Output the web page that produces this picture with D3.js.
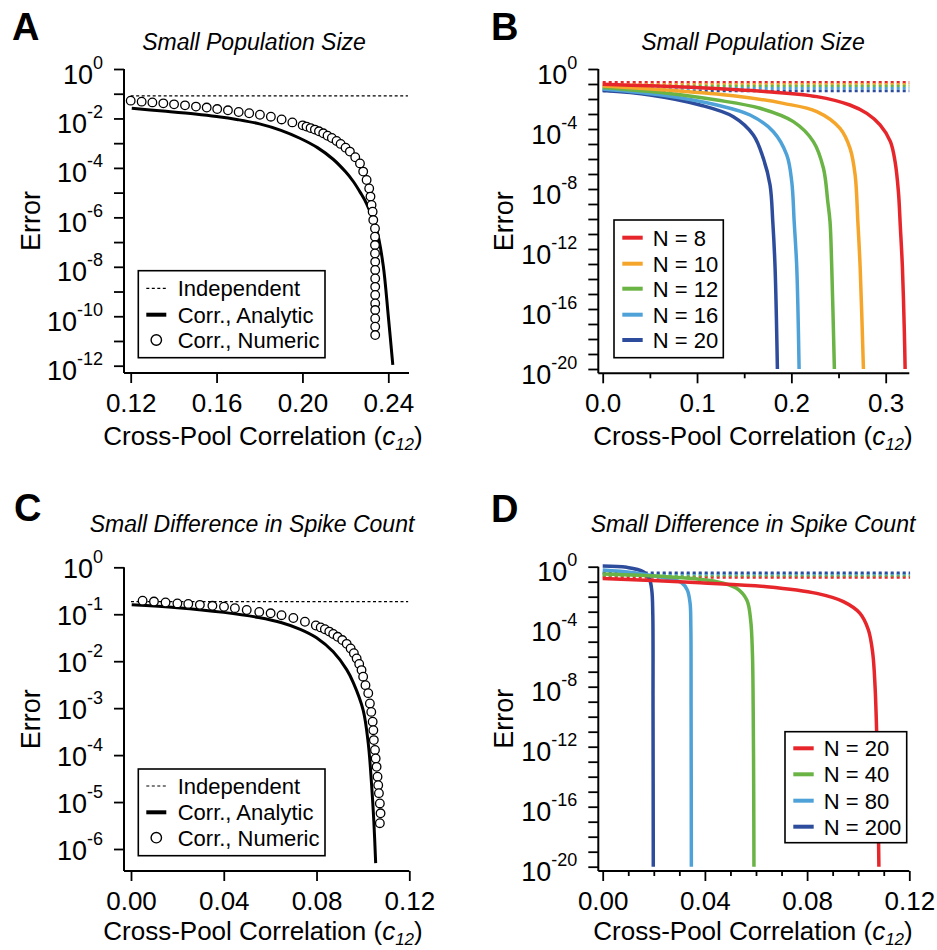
<!DOCTYPE html>
<html>
<head>
<meta charset="utf-8">
<script src="https://cdn.jsdelivr.net/npm/d3@7"></script>
<style>
  body { margin: 0; background: #fff; }
  svg { display: block; font-family: "Liberation Sans", Arial, Helvetica, sans-serif; }
</style>
</head>
<body>
<svg id="fig" width="937" height="950"></svg>
<script>
// values: [c12, log10(error)]

// A: small population size
const aIndependent = -1.09
const aAnalytic = [
  [0.1205, -1.59], [0.135, -1.70], [0.150, -1.82], [0.160, -1.92], [0.170, -2.05],
  [0.180, -2.22], [0.190, -2.48], [0.1988, -2.80], [0.2070, -3.18], [0.2143, -3.65],
  [0.2200, -4.15], [0.2237, -4.55], [0.2270, -5.00], [0.2299, -5.45], [0.2346, -6.51],
  [0.2376, -7.93], [0.2400, -10.0], [0.2421, -11.97]
]
const aNumeric = [
  [0.1200, -1.28], [0.1251, -1.32], [0.1301, -1.35], [0.1352, -1.39], [0.1402, -1.43],
  [0.1453, -1.47], [0.1504, -1.52], [0.1554, -1.56], [0.1603, -1.62], [0.1653, -1.67],
  [0.1703, -1.74], [0.1752, -1.79], [0.1802, -1.85], [0.1853, -1.93], [0.1903, -2.04],
  [0.1953, -2.16], [0.2001, -2.28], [0.2019, -2.33], [0.2038, -2.39], [0.2058, -2.45],
  [0.2077, -2.52], [0.2097, -2.60], [0.2117, -2.70], [0.2137, -2.79], [0.2159, -2.91],
  [0.2178, -3.03], [0.2201, -3.18], [0.2221, -3.34], [0.2246, -3.57], [0.2268, -3.82],
  [0.2283, -4.15], [0.2299, -4.49], [0.2311, -4.83], [0.2317, -5.16], [0.2322, -5.50],
  [0.2327, -5.77], [0.2330, -6.11], [0.2338, -6.45], [0.2338, -6.78], [0.2338, -7.12],
  [0.2338, -7.46], [0.2339, -7.80], [0.2339, -8.13], [0.2339, -8.47], [0.2339, -8.81],
  [0.2339, -9.14], [0.2339, -9.48], [0.2339, -9.75], [0.2339, -10.09], [0.2339, -10.42],
  [0.2339, -10.76]
]

// B: small population size, several N
const bSizes = [8, 10, 12, 16, 20]
const bIndependent = [-0.89, -1.02, -1.13, -1.29, -1.47]
const bCurves = [
  [[0, -1.02], [0.05, -1.12], [0.1032, -1.25], [0.174, -1.51], [0.227, -1.84], [0.262, -2.40],
   [0.280, -2.96], [0.294, -3.73], [0.305, -4.84], [0.310, -6.20], [0.3135, -8.20],
   [0.3155, -10.5], [0.3177, -13.2], [0.3198, -17.6], [0.3206, -20]],
  [[0, -1.13], [0.0679, -1.40], [0.1385, -1.78], [0.1915, -2.29], [0.227, -2.84], [0.2516, -3.96],
   [0.2622, -5.29], [0.2676, -7.07], [0.2705, -10.2], [0.2729, -13.2], [0.2764, -20]],
  [[0, -1.24], [0.0679, -1.62], [0.121, -2.07], [0.1668, -2.62], [0.2021, -3.51], [0.2233, -4.84],
   [0.234, -6.62], [0.2386, -8.84], [0.2410, -10.2], [0.2428, -13.2], [0.2456, -20]],
  [[0, -1.33], [0.0679, -1.78], [0.121, -2.40], [0.1562, -3.07], [0.1809, -4.18], [0.1951, -5.73],
   [0.2004, -7.51], [0.2030, -10.2], [0.2057, -13.2], [0.2082, -20]],
  [[0, -1.44], [0.0502, -1.73], [0.1032, -2.40], [0.1385, -3.18], [0.1597, -4.40], [0.1703, -5.96],
   [0.1774, -7.73], [0.1803, -10.18], [0.1827, -13.2], [0.1852, -20]]
]

// C: small difference in spike count
const cIndependent = -0.73
const cAnalytic = [
  [0.0003, -0.80], [0.02, -0.86], [0.04, -0.96], [0.055, -1.07], [0.065, -1.18], [0.073, -1.32],
  [0.08, -1.50], [0.0872, -1.80], [0.0930, -2.18], [0.0958, -2.45], [0.1001, -3.04],
  [0.1023, -3.75], [0.1037, -4.60], [0.1047, -5.40], [0.1055, -6.30]
]
const cNumeric = [
  [0.0050, -0.71], [0.0099, -0.73], [0.0149, -0.75], [0.0200, -0.77], [0.0247, -0.78],
  [0.0297, -0.80], [0.0351, -0.82], [0.0401, -0.84], [0.0448, -0.87], [0.0499, -0.91],
  [0.0553, -0.95], [0.0602, -0.98], [0.0649, -1.02], [0.0700, -1.08], [0.0750, -1.16],
  [0.0797, -1.24], [0.0818, -1.28], [0.0836, -1.32], [0.0855, -1.37], [0.0872, -1.42],
  [0.0891, -1.48], [0.0911, -1.55], [0.0930, -1.63], [0.0947, -1.73], [0.0961, -1.83],
  [0.0973, -1.94], [0.0984, -2.06], [0.0994, -2.19], [0.1001, -2.33], [0.1011, -2.51],
  [0.1023, -2.68], [0.1030, -2.90], [0.1036, -3.08], [0.1042, -3.29], [0.1045, -3.47],
  [0.1047, -3.68], [0.1052, -3.89], [0.1055, -4.07], [0.1059, -4.25], [0.1063, -4.46],
  [0.1066, -4.64], [0.1069, -4.81], [0.1073, -5.03], [0.1076, -5.24], [0.1073, -5.45]
]

// D: small difference in spike count, several N
const dSizes = [20, 40, 80, 200]
const dIndependent = [-0.71, -0.58, -0.49, -0.40]
const dCurves = [
  [[0, -0.78], [0.0381, -1.07], [0.0642, -1.33], [0.0838, -1.78], [0.0942, -2.33], [0.1007, -3.11],
   [0.1040, -4.22], [0.1057, -5.78], [0.1066, -8.0], [0.1072, -10.9], [0.1077, -15], [0.1081, -20]],
  [[0, -0.49], [0.025, -0.67], [0.0446, -1.0], [0.0524, -1.44], [0.0564, -2.22], [0.0579, -3.55],
   [0.0586, -5.78], [0.0589, -9.44], [0.0591, -15], [0.0592, -20]],
  [[0, -0.22], [0.012, -0.40], [0.025, -0.78], [0.0309, -1.07], [0.0331, -1.56], [0.0342, -2.44],
   [0.0345, -4.0], [0.0346, -9.44], [0.0347, -20]],
  [[0, 0.05], [0.0094, -0.04], [0.0159, -0.33], [0.0182, -0.78], [0.0192, -1.56], [0.0196, -3.11],
   [0.0197, -9.44], [0.0198, -20]]
]

const bColors = ['#e6262b', '#f5a52a', '#6ab345', '#4fa2d8', '#2d4c9c']
const dColors = ['#e6262b', '#6ab345', '#4fa2d8', '#2d4c9c']

const svg = d3.select('#fig')

const drawPanel = p => {
  const g = svg.append('g')
  const x = d3.scaleLinear().domain(p.xTicks.domain).range(p.xTicks.range)
  const y = d3.scaleLog().domain([1, 10 ** p.yMin]).range([p.top, p.yMinPx])

  // y axis
  const yAxisG = g.append('g')
    .attr('transform', `translate(${p.left},0)`)
    .call(d3.axisLeft(y)
      .tickValues(d3.range(0, p.yMin - 1, -1).map(e => 10 ** e))
      .tickSize(10).tickSizeOuter(0).tickFormat(''))
    .attr('font-family', null).attr('font-size', null)
  yAxisG.select('.domain').remove()
  yAxisG.selectAll('.tick line').attr('stroke-width', 1.8)
  yAxisG.selectAll('.tick text').remove()
  const lab = yAxisG.selectAll('.tick')
    .filter(d => Math.round(Math.log10(d)) % p.yLabelEvery === 0)
    .append('text')
    .attr('x', -21).attr('y', p.yLabelDy)
    .attr('text-anchor', 'end').attr('fill', 'black')
  lab.append('tspan').attr('font-size', 27).text('10')
  lab.append('tspan').attr('font-size', 18).attr('dy', -15)
    .text(d => String(Math.round(Math.log10(d))))

  // x axis
  const xAxisG = g.append('g')
    .attr('transform', `translate(0,${p.bottom})`)
    .call(d3.axisBottom(x).tickValues(p.xMajor).tickSize(10).tickSizeOuter(0)
      .tickFormat(d3.format(p.xFormat)))
    .attr('font-family', null).attr('font-size', null)
  xAxisG.select('.domain').remove()
  xAxisG.selectAll('.tick line').attr('stroke-width', 1.8)
  xAxisG.selectAll('.tick text')
    .attr('y', 39).attr('dy', null).attr('font-size', 26).attr('fill', 'black')
  if (p.xMinor) {
    const minorG = g.append('g')
      .attr('transform', `translate(0,${p.bottom})`)
      .call(d3.axisBottom(x).tickValues(p.xMinor).tickSize(5).tickSizeOuter(0).tickFormat(''))
    minorG.select('.domain').remove()
    minorG.selectAll('.tick line').attr('stroke-width', 1.8)
  }

  // spines
  g.append('line')
    .attr('x1', p.left).attr('x2', p.left).attr('y1', p.top).attr('y2', p.bottom)
    .attr('stroke', 'black').attr('stroke-width', 2)
  g.append('line')
    .attr('x1', p.left).attr('x2', p.right).attr('y1', p.bottom).attr('y2', p.bottom)
    .attr('stroke', 'black').attr('stroke-width', 2)

  // labels
  g.append('text')
    .attr('x', p.letter[0]).attr('y', p.letter[1])
    .attr('font-size', 38).attr('font-weight', 'bold')
    .text(p.name)
  g.append('text')
    .attr('x', p.titleX).attr('y', p.titleY)
    .attr('text-anchor', 'middle').attr('font-size', 23).attr('font-style', 'italic')
    .text(p.title)
  g.append('text')
    .attr('transform', `translate(${p.errorX},${(p.top + p.bottom) / 2}) rotate(-90)`)
    .attr('text-anchor', 'middle').attr('font-size', 27)
    .text('Error')
  const xl = g.append('text')
    .attr('x', p.xLabelX).attr('y', p.xLabelY)
    .attr('text-anchor', 'middle').attr('font-size', 26)
  xl.append('tspan').text('Cross-Pool Correlation (')
  xl.append('tspan').attr('font-style', 'italic').text('c')
  xl.append('tspan').attr('font-style', 'italic').attr('font-size', 17).attr('dy', 5).text('12')
  xl.append('tspan').attr('dy', -5).text(')')

  const lineGen = d3.line()
    .x(d => x(d[0]))
    .y(d => y(10 ** d[1]))
    .curve(d3.curveCatmullRom.alpha(0.5))

  return { g, x, y, lineGen }
}

const fullEnd = (p, x) => x.invert(p.right)

// ---------- panel A ----------
const pA = {
  name: 'A', letter: [12, 40], title: 'Small Population Size', titleX: 254, titleY: 50,
  left: 124, right: 409, top: 69, bottom: 373, yMin: -12, yMinPx: 365.7,
  yLabelEvery: 2, yLabelDy: 14,
  xTicks: { domain: [0.12, 0.24], range: [130.7, 388.3] },
  xMajor: [0.12, 0.16, 0.20, 0.24], xFormat: '.2f',
  errorX: 40, xLabelX: 263, xLabelY: 445
}
const A = drawPanel(pA)
A.g.append('path')
  .attr('d', A.lineGen([[0.12, aIndependent], [fullEnd(pA, A.x) - 0.0005, aIndependent]]))
  .attr('fill', 'none').attr('stroke', 'black').attr('stroke-width', 1.2)
  .attr('stroke-dasharray', '3,2.5')
A.g.append('path')
  .attr('d', A.lineGen(aAnalytic))
  .attr('fill', 'none').attr('stroke', 'black').attr('stroke-width', 3)
A.g.selectAll('.num').data(aNumeric)
  .enter().append('circle')
  .attr('cx', d => A.x(d[0])).attr('cy', d => A.y(10 ** d[1]))
  .attr('r', 4.3).attr('fill', 'white').attr('stroke', 'black').attr('stroke-width', 1.3)

// ---------- panel B ----------
const pB = {
  name: 'B', letter: [491, 40], title: 'Small Population Size', titleX: 753, titleY: 50,
  left: 598.3, right: 909.3, top: 69, bottom: 373.3, yMin: -20, yMinPx: 369,
  yLabelEvery: 4, yLabelDy: 14,
  xTicks: { domain: [0, 0.3], range: [602.7, 885.7] },
  xMajor: [0, 0.1, 0.2, 0.3], xMinor: [0.05, 0.15, 0.25], xFormat: '.1f',
  errorX: 513, xLabelX: 753, xLabelY: 445
}
const B = drawPanel(pB)
const bEnd = fullEnd(pB, B.x)
B.g.selectAll('.indep').data(bIndependent)
  .enter().append('path')
  .attr('d', d => B.lineGen([[0, d], [bEnd, d]]))
  .attr('fill', 'none').attr('stroke', (d, i) => bColors[i]).attr('stroke-width', 2.6)
  .attr('stroke-dasharray', '3,3')
B.g.selectAll('.curve').data(bCurves.map((c, i) => ({ c, i })).reverse())
  .enter().append('path')
  .attr('d', d => B.lineGen(d.c))
  .attr('fill', 'none').attr('stroke', d => bColors[d.i]).attr('stroke-width', 3.5)

// ---------- panel C ----------
const pC = {
  name: 'C', letter: [14, 521], title: 'Small Difference in Spike Count', titleX: 252, titleY: 532,
  left: 124, right: 409.3, top: 567.3, bottom: 871, yMin: -6, yMinPx: 849,
  yLabelEvery: 1, yLabelDy: 10,
  xTicks: { domain: [0, 0.12], range: [131, 409.3] },
  xMajor: [0, 0.04, 0.08, 0.12], xFormat: '.2f',
  errorX: 40, xLabelX: 263, xLabelY: 940
}
const C = drawPanel(pC)
C.g.append('path')
  .attr('d', C.lineGen([[0, cIndependent], [0.1195, cIndependent]]))
  .attr('fill', 'none').attr('stroke', 'black').attr('stroke-width', 1.2)
  .attr('stroke-dasharray', '3,2.5')
C.g.append('path')
  .attr('d', C.lineGen(cAnalytic))
  .attr('fill', 'none').attr('stroke', 'black').attr('stroke-width', 3)
C.g.selectAll('.num').data(cNumeric)
  .enter().append('circle')
  .attr('cx', d => C.x(d[0])).attr('cy', d => C.y(10 ** d[1]))
  .attr('r', 4.3).attr('fill', 'white').attr('stroke', 'black').attr('stroke-width', 1.3)

// ---------- panel D ----------
const pD = {
  name: 'D', letter: [491, 522], title: 'Small Difference in Spike Count', titleX: 753, titleY: 532,
  left: 598.3, right: 909.3, top: 566.7, bottom: 871, yMin: -20, yMinPx: 866.7,
  yLabelEvery: 4, yLabelDy: 14,
  xTicks: { domain: [0, 0.12], range: [602.7, 909.3] },
  xMajor: [0, 0.04, 0.08, 0.12], xMinor: [0.01, 0.02, 0.03, 0.05, 0.06, 0.07, 0.09, 0.10, 0.11],
  xFormat: '.2f',
  errorX: 513, xLabelX: 753, xLabelY: 940
}
const D = drawPanel(pD)
D.g.selectAll('.indep').data(dIndependent)
  .enter().append('path')
  .attr('d', d => D.lineGen([[0, d], [0.1203, d]]))
  .attr('fill', 'none').attr('stroke', (d, i) => dColors[i]).attr('stroke-width', 2.6)
  .attr('stroke-dasharray', '3,3')
D.g.selectAll('.curve').data(dCurves.map((c, i) => ({ c, i })).reverse())
  .enter().append('path')
  .attr('d', d => D.lineGen(d.c))
  .attr('fill', 'none').attr('stroke', d => dColors[d.i]).attr('stroke-width', 3.5)

// ---------- legends ----------
const blackLegend = (g, box, rows) => {
  g.append('rect')
    .attr('x', box[0]).attr('y', box[1]).attr('width', box[2]).attr('height', box[3])
    .attr('fill', 'white').attr('stroke', 'black').attr('stroke-width', 1.6)
  const sx = box[0] + 8, tx = box[0] + 39.4
  g.append('line').attr('x1', sx).attr('x2', sx + 20).attr('y1', rows[0]).attr('y2', rows[0])
    .attr('stroke', 'black').attr('stroke-width', 1.2).attr('stroke-dasharray', '3,2.5')
  g.append('line').attr('x1', sx).attr('x2', sx + 20).attr('y1', rows[1]).attr('y2', rows[1])
    .attr('stroke', 'black').attr('stroke-width', 4)
  g.append('circle').attr('cx', sx + 10).attr('cy', rows[2]).attr('r', 5.2)
    .attr('fill', 'white').attr('stroke', 'black').attr('stroke-width', 1.4)
  const names = ['Independent', 'Corr., Analytic', 'Corr., Numeric']
  names.forEach((t, i) => g.append('text')
    .attr('x', tx).attr('y', rows[i] + 8).attr('font-size', 22).text(t))
}
blackLegend(A.g, [138.3, 270.7, 186.7, 87], [288.3, 314.7, 340])
blackLegend(C.g, [138.3, 769, 186.7, 86.7], [786, 812.3, 837.7])

const colorLegend = (g, box, rows, sizes, colors) => {
  g.append('rect')
    .attr('x', box[0]).attr('y', box[1]).attr('width', box[2]).attr('height', box[3])
    .attr('fill', 'white').attr('stroke', 'black').attr('stroke-width', 1.6)
  const sx = box[0] + 8.3
  sizes.forEach((n, i) => {
    g.append('line').attr('x1', sx).attr('x2', sx + 20.4).attr('y1', rows[i]).attr('y2', rows[i])
      .attr('stroke', colors[i]).attr('stroke-width', 4)
    g.append('text').attr('x', sx + 30.4).attr('y', rows[i] + 8).attr('font-size', 22)
      .text(`N = ${n}`)
  })
}
colorLegend(B.g, [614, 220, 109.3, 137.7], [237.7, 263.7, 288.7, 314.7, 340], bSizes, bColors)
colorLegend(D.g, [785, 731.7, 121.7, 111], [748.3, 774.3, 800.7, 826.7], dSizes, dColors)
</script>
</body>
</html>
